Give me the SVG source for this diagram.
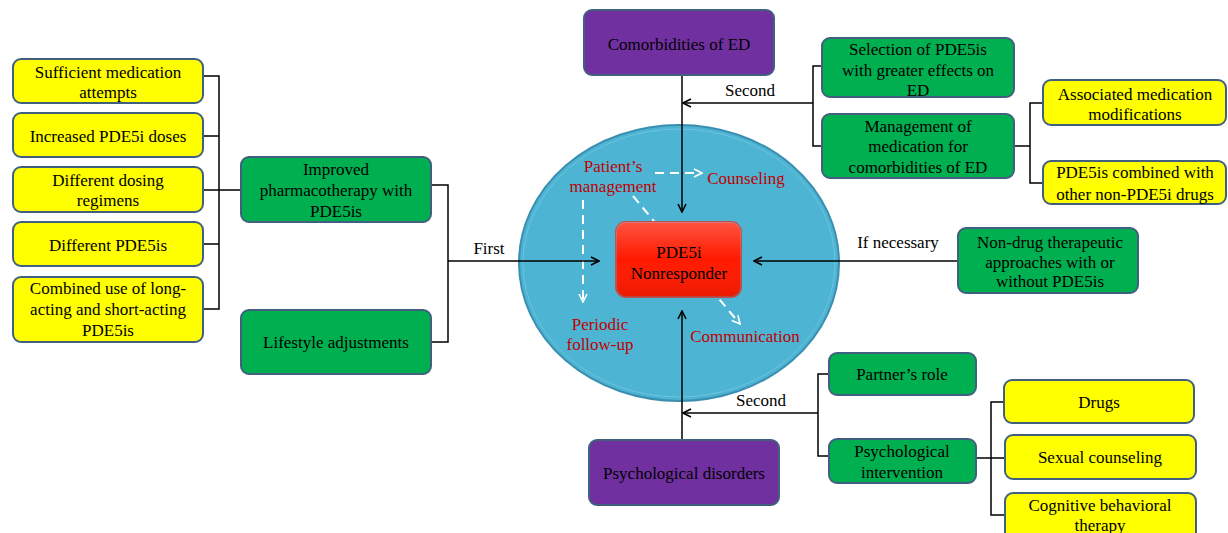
<svg xmlns="http://www.w3.org/2000/svg" width="1228" height="533" viewBox="0 0 1228 533" font-family="'Liberation Serif', 'DejaVu Serif', serif">
<style>
.box{stroke:#41607F;stroke-width:2}
.y{fill:#FFFF00}
.g{fill:#00B050}
.p{fill:#7030A0}
.r{fill:#FF1A00;stroke:#C0504D}
text{font-family:'Liberation Serif','DejaVu Serif',serif;font-size:17px;fill:#000;text-anchor:middle}
.red{fill:#C00000}
.ln{fill:none;stroke:#000;stroke-width:1.5}
.dash{fill:none;stroke:#FFFFFF;stroke-width:2;stroke-dasharray:9,6}
</style>
<defs>
<marker id="ah" viewBox="0 0 10 10" refX="9" refY="5" markerWidth="10" markerHeight="10" markerUnits="userSpaceOnUse" orient="auto">
<path d="M1,1 L9,5 L1,9" fill="none" stroke="#000" stroke-width="1.6"/>
</marker>
<marker id="wh" viewBox="0 0 10 10" refX="9" refY="5" markerWidth="10" markerHeight="10" markerUnits="userSpaceOnUse" orient="auto">
<path d="M1,1 L9,5 L1,9" fill="none" stroke="#FFF" stroke-width="1.6"/>
</marker>
<linearGradient id="shine" x1="0" y1="0" x2="0" y2="1">
<stop offset="0" stop-color="#FFFFFF" stop-opacity="0.25"/>
<stop offset="0.5" stop-color="#FFFFFF" stop-opacity="0"/>
<stop offset="1" stop-color="#000000" stop-opacity="0.08"/>
</linearGradient>
</defs>

<g id="hub">
<ellipse cx="679" cy="263" rx="160" ry="138" fill="#4EB4D3" stroke="#3A8FB0" stroke-width="2"/>
<ellipse cx="679" cy="263" rx="156" ry="134" fill="none" stroke="#6CC3DD" stroke-width="1"/>
<text class="red" x="613" y="172">Patient’s</text>
<text class="red" x="613" y="192">management</text>
<text class="red" x="746" y="184">Counseling</text>
<text class="red" x="600" y="330">Periodic</text>
<text class="red" x="600" y="350">follow-up</text>
<text class="red" x="745" y="342">Communication</text>
</g>

<g id="connectors">
<path class="dash" d="M655,173 L702,173" marker-end="url(#wh)"/>
<path class="dash" d="M583,200 L583,302" marker-end="url(#wh)"/>
<path class="dash" d="M633,196 L740,324" marker-end="url(#wh)"/>
<path class="ln" d="M203,76 H219 V309 H203 M203,136 H219 M203,244 H219 M203,190 H241"/>
<path class="ln" d="M431,185 H448 V342 H431"/>
<path class="ln" d="M448,261 H599" marker-end="url(#ah)"/>
<path class="ln" d="M682,75 V212" marker-end="url(#ah)"/>
<path class="ln" d="M822,66 H813 V146 H822"/>
<path class="ln" d="M813,103 H683" marker-end="url(#ah)"/>
<path class="ln" d="M1014,146 H1030 M1043,103 H1030 V183 H1043"/>
<path class="ln" d="M958,261 H754" marker-end="url(#ah)"/>
<path class="ln" d="M682,440 V311" marker-end="url(#ah)"/>
<path class="ln" d="M829,374 H818 V456 H829"/>
<path class="ln" d="M818,413 H683" marker-end="url(#ah)"/>
<path class="ln" d="M976,458 H1004 M1004,402 H991 V515 H1004"/>
<text x="489" y="254">First</text>
<text x="750" y="96">Second</text>
<text x="898" y="248">If necessary</text>
<text x="761" y="406">Second</text>
</g>

<g id="center">
<rect class="box r" x="616" y="222" width="125" height="75" rx="10"/>
<rect x="616" y="222" width="125" height="75" rx="10" fill="url(#shine)"/>
<text x="679" y="258">PDE5i</text>
<text x="679" y="279">Nonresponder</text>
</g>

<g id="y1"><rect class="box y" x="13" y="59" width="190" height="44" rx="8"/><text x="108" y="78">Sufficient medication</text><text x="108" y="98">attempts</text></g>
<g id="y2"><rect class="box y" x="13" y="113" width="190" height="44" rx="8"/><text x="108" y="142">Increased PDE5i doses</text></g>
<g id="y3"><rect class="box y" x="13" y="167" width="190" height="45" rx="8"/><text x="108" y="186">Different dosing</text><text x="108" y="206">regimens</text></g>
<g id="y4"><rect class="box y" x="13" y="222" width="190" height="44" rx="8"/><text x="108" y="251">Different PDE5is</text></g>
<g id="y5"><rect class="box y" x="13" y="277" width="190" height="65" rx="8"/><text x="108" y="294">Combined use of long-</text><text x="108" y="315">acting and short-acting</text><text x="108" y="336">PDE5is</text></g>

<g id="g-pharma"><rect class="box g" x="241" y="157" width="190" height="65" rx="8"/><text x="336" y="175">Improved</text><text x="336" y="196">pharmacotherapy with</text><text x="336" y="217">PDE5is</text></g>
<g id="g-life"><rect class="box g" x="241" y="310" width="190" height="64" rx="8"/><text x="336" y="348">Lifestyle adjustments</text></g>

<g id="p-comorb"><rect class="box p" x="584" y="10" width="190" height="65" rx="8"/><text x="679" y="50">Comorbidities of ED</text></g>
<g id="g-select"><rect class="box g" x="822" y="38" width="192" height="59" rx="8"/><text x="918" y="55">Selection of PDE5is</text><text x="918" y="76">with greater effects on</text><text x="918" y="96">ED</text></g>
<g id="g-manage"><rect class="box g" x="822" y="114" width="192" height="64" rx="8"/><text x="918" y="132">Management of</text><text x="918" y="152">medication for</text><text x="918" y="173">comorbidities of ED</text></g>
<g id="y-assoc"><rect class="box y" x="1043" y="80" width="183" height="45" rx="8"/><text x="1135" y="100">Associated medication</text><text x="1135" y="120">modifications</text></g>
<g id="y-combined"><rect class="box y" x="1043" y="161" width="183" height="43" rx="8"/><text x="1135" y="178">PDE5is combined with</text><text x="1135" y="200">other non-PDE5i drugs</text></g>

<g id="g-nondrug"><rect class="box g" x="958" y="228" width="180" height="65" rx="8"/><text x="1050" y="248">Non-drug therapeutic</text><text x="1050" y="268">approaches with or</text><text x="1050" y="287">without PDE5is</text></g>

<g id="p-psych"><rect class="box p" x="589" y="440" width="190" height="65" rx="8"/><text x="684" y="479">Psychological disorders</text></g>
<g id="g-partner"><rect class="box g" x="829" y="353" width="147" height="42" rx="8"/><text x="902" y="380">Partner’s role</text></g>
<g id="g-interv"><rect class="box g" x="829" y="439" width="147" height="44" rx="8"/><text x="902" y="457">Psychological</text><text x="902" y="478">intervention</text></g>
<g id="y-drugs"><rect class="box y" x="1004" y="380" width="190" height="43" rx="8"/><text x="1099" y="408">Drugs</text></g>
<g id="y-sexual"><rect class="box y" x="1005" y="435" width="191" height="44" rx="8"/><text x="1100" y="463">Sexual counseling</text></g>
<g id="y-cbt"><rect class="box y" x="1005" y="493" width="191" height="50" rx="8"/><text x="1100" y="511">Cognitive behavioral</text><text x="1100" y="531">therapy</text></g>
</svg>
